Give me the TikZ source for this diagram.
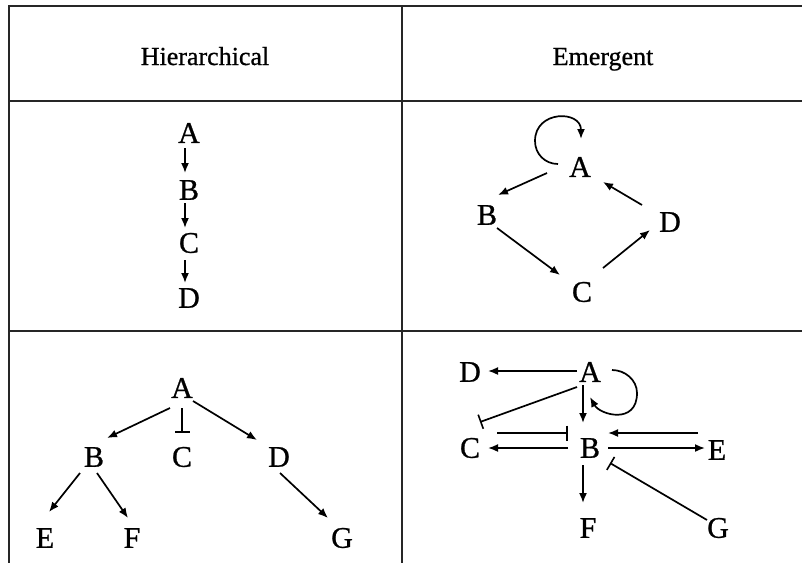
\documentclass[tikz,border=0pt]{standalone}
\usepackage{fontspec}
\setmainfont{Liberation Serif}[FakeBold=0.8]
\usetikzlibrary{arrows.meta,calc}

\begin{document}
\begin{tikzpicture}[
  x=1pt, y=-1pt,
  grid/.style={draw=black!85, line width=2.8pt},
  head/.style={inner sep=0pt, anchor=base, font=\fontsize{26}{26}\selectfont},
  letter/.style={inner sep=0pt, font=\fontsize{30}{30}\selectfont},
  arr/.style={-{Latex[length=10pt,width=8pt]}, line width=1.7pt},
  inh/.style={-{Bar[width=15pt,line width=1.6pt]}, line width=1.7pt},
]
\useasboundingbox (0,0) rectangle (802,563);

% table
\draw[grid] (802,6) -- (9,6) -- (9,563);
\draw[grid] (402,6) -- (402,563);
\draw[grid] (9,101) -- (802,101);
\draw[grid] (9,331) -- (802,331);

\node[head] (hier) at (205,65) {Hierarchical};
\node[head] (emer) at (603,65) {Emergent};

% hierarchical chain
\node[letter] (cA) at (189,133) {A};
\node[letter] (cB) at (189,190) {B};
\node[letter] (cC) at (189,243) {C};
\node[letter] (cD) at (189,298) {D};
\draw[arr] ($(cA)+(-4,15)$) -- ($(cB)+(-4,-17)$);
\draw[arr] ($(cB)+(-4,13)$) -- ($(cC)+(-4,-15)$);
\draw[arr] ($(cC)+(-4,17)$) -- ($(cD)+(-4,-15)$);

% emergent loop
\node[letter] (lA) at (580,167) {A};
\node[letter] (lB) at (487,215) {B};
\node[letter] (lD) at (670,222) {D};
\node[letter] (lC) at (582,292) {C};
\draw[arr] ($(lA)+(-33,6)$) -- ($(lB)+(11,-20)$);
\draw[arr] ($(lD)+(-28,-17)$) -- ($(lA)+(23,15)$);
\draw[arr] ($(lB)+(10,13)$) -- ($(lC)+(-22,-17)$);
\draw[arr] ($(lC)+(21,-24)$) -- ($(lD)+(-20,8)$);
\draw[arr] ($(lA)+(-22,-3)$) .. controls ($(lA)+(-35,-3)$) and ($(lA)+(-45,-13)$) .. ($(lA)+(-45,-26)$)
  .. controls ($(lA)+(-45,-57)$) and ($(lA)+(1,-57)$) .. ($(lA)+(1,-28)$);

% hierarchical tree
\node[letter] (tA) at (182,388) {A};
\node[letter] (tB) at (94,457) {B};
\node[letter] (tC) at (182,457) {C};
\node[letter] (tD) at (279,457) {D};
\node[letter] (tE) at (45,538) {E};
\node[letter] (tF) at (132,538) {F};
\node[letter] (tG) at (342,538) {G};
\draw[arr] ($(tA)+(-12,20)$) -- ($(tB)+(13,-19)$);
\draw[inh] ($(tA)+(0,20)$) -- ($(tC)+(0,-24)$);
\draw[arr] ($(tA)+(11,13)$) -- ($(tD)+(-22,-17)$);
\draw[arr] ($(tB)+(-14,16)$) -- ($(tE)+(4,-26)$);
\draw[arr] ($(tB)+(3,16)$) -- ($(tF)+(-4,-20)$);
\draw[arr] ($(tD)+(1,16)$) -- ($(tG)+(-14,-20)$);

% emergent network
\node[letter] (nA) at (590,372) {A};
\node[letter] (nD) at (470,372) {D};
\node[letter] (nB) at (590,448) {B};
\node[letter] (nC) at (470,448) {C};
\node[letter] (nE) at (717,450) {E};
\node[letter] (nF) at (588,528) {F};
\node[letter] (nG) at (718,528) {G};
\draw[arr] ($(nA)+(-13,-1)$) -- ($(nD)+(18,-1)$);
\draw[arr] ($(nA)+(-7,13)$) -- ($(nB)+(-7,-25)$);
\draw[inh] ($(nA)+(-13,15)$) -- ($(nC)+(10,-26)$);
\draw[inh] ($(nC)+(27,-15)$) -- ($(nB)+(-22,-15)$);
\draw[arr] ($(nB)+(-22,0)$) -- ($(nC)+(18,0)$);
\draw[arr] ($(nE)+(-19,-17)$) -- ($(nB)+(18,-15)$);
\draw[arr] ($(nB)+(18,0)$) -- ($(nE)+(-12,-2)$);
\draw[arr] ($(nB)+(-7,17)$) -- ($(nF)+(-5,-25)$);
\draw[inh] ($(nG)+(-11,-8)$) -- ($(nB)+(20,15)$);
\draw[arr] ($(nA)+(22,-2)$) .. controls ($(nA)+(35,-2)$) and ($(nA)+(47,8)$) .. ($(nA)+(47,21)$)
  .. controls ($(nA)+(47,53)$) and ($(nA)+(10,43)$) .. ($(nA)+(0,25)$);
\end{tikzpicture}
\end{document}
